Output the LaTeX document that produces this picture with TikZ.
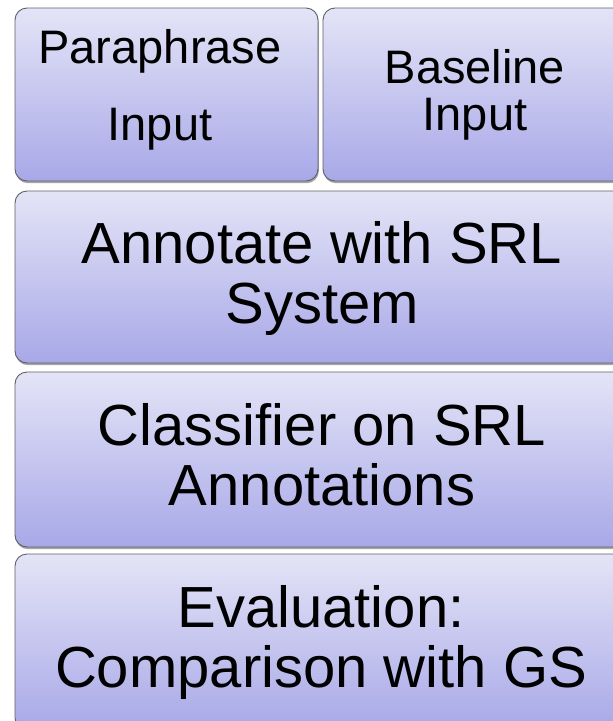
\documentclass[tikz,border=0pt]{standalone}
\usepackage{fontspec}
\setmainfont{Liberation Sans}
\usetikzlibrary{shadows}
\definecolor{boxtop}{RGB}{228,228,247}
\definecolor{boxbot}{RGB}{168,168,232}
\definecolor{boxline}{RGB}{95,95,105}
\tikzset{
  stage/.style={draw=boxline, line width=0.9pt, rounded corners=12pt,
    top color=boxtop, bottom color=boxbot, inner sep=0pt,
    drop shadow={shadow xshift=0.8pt, shadow yshift=-2.2pt, opacity=0.35, fill=black}},
  lbl/.style={align=center, inner sep=0pt, text=black, anchor=north},
  small/.style={font=\fontsize{47pt}{#1}\selectfont},
  big/.style={font=\fontsize{58pt}{60pt}\selectfont},
}
\begin{document}
\begin{tikzpicture}[x=1pt, y=-1pt]
\useasboundingbox (0,0) rectangle (613,721);
\fill[white] (0,0) rectangle (613,721);
\clip (0,0) rectangle (613,721);
\node[stage, minimum width=303pt, minimum height=173pt] (para) at (166.5,94.5) {};
\node[stage, minimum width=306pt, minimum height=173pt] (base) at (476,94.5) {};
\node[stage, minimum width=614pt, minimum height=172pt] (ann) at (322,277) {};
\node[stage, minimum width=614pt, minimum height=175pt] (cls) at (322,459.5) {};
\node[stage, minimum width=614pt, minimum height=176pt] (eval) at (322,642) {};
\node[lbl, small=77pt] (paratxt) at (160,29) {Paraphrase\\Input};
\node[lbl, small=47pt] (basetxt) at (475,49) {Baseline\\Input};
\node[lbl, big] (anntxt) at (322,221) {Annotate with SRL\\System};
\node[lbl, big] (clstxt) at (322,403) {Classifier on SRL\\Annotations};
\node[lbl, big] (evaltxt) at (321,585) {Evaluation:\\Comparison with GS};
\end{tikzpicture}
\end{document}
